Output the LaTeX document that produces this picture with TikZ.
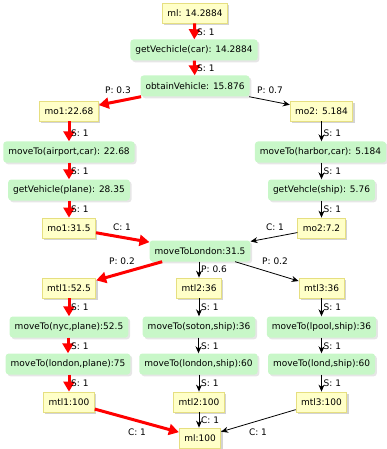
\documentclass[tikz,border=0pt]{standalone}
\usepackage{fontspec}
\setmainfont{DejaVu Sans}
\usetikzlibrary{arrows.meta,shadows}
\definecolor{ylwfill}{HTML}{FFFFC8}
\definecolor{ylwline}{HTML}{E6DF80}
\definecolor{grnfill}{HTML}{C8F7C8}
\tikzset{
  base/.style={font=\fontsize{9}{10}\selectfont, inner xsep=5pt, inner ysep=2pt, minimum height=20pt},
  state/.style={base, fill=ylwfill, draw=ylwline, line width=0.8pt,
    drop shadow={shadow xshift=1.8pt, shadow yshift=-1.8pt, opacity=0.35, fill=gray}},
  task/.style={base, fill=grnfill, rounded corners=3pt, minimum height=21pt,
    drop shadow={shadow xshift=1.8pt, shadow yshift=-1.8pt, opacity=0.2, fill=gray}},
  lbl/.style={font=\fontsize{9}{10}\selectfont, inner sep=0pt},
  hot/.style={draw=red, line width=3pt, -{Triangle[length=10pt,width=11pt]}, fill=red, shorten >=0pt},
  cold/.style={draw=black, line width=0.8pt, -{Stealth[length=7pt,width=6pt]}},
}
\begin{document}
\begin{tikzpicture}[x=1pt,y=-1pt]
\useasboundingbox (0,0) rectangle (386,449);

% states and tasks
\node[state] (ml)   at (195,13)  {ml: 14.2884};
\node[task]  (gvc)  at (194,50)  {getVechicle(car): 14.2884};
\node[task]  (ov)   at (195,86)  {obtainVehicle: 15.876};
\node[state] (mo1a) at (69,111)  {mo1:22.68};
\node[state] (mo2a) at (321.5,111) {mo2: 5.184};
\node[task]  (mta)  at (69,152)  {moveTo(airport,car): 22.68};
\node[task]  (mth)  at (320.5,152) {moveTo(harbor,car): 5.184};
\node[task]  (gvp)  at (69,190)  {getVehicle(plane): 28.35};
\node[task]  (gvs)  at (321.5,190) {getVehcle(ship): 5.76};
\node[state] (mo1b) at (69,228)  {mo1:31.5};
\node[state] (mo2b) at (321.5,228) {mo2:7.2};
\node[task]  (mtl)  at (200,251) {moveToLondon:31.5};
\node[state] (t1a)  at (69,288)  {mtl1:52.5};
\node[state] (t2a)  at (199,288) {mtl2:36};
\node[state] (t3a)  at (321.5,288) {mtl3:36};
\node[task]  (nyc)  at (69,327)  {moveTo(nyc,plane):52.5};
\node[task]  (sot)  at (199,327) {moveTo(soton,ship):36};
\node[task]  (lpo)  at (321.5,327) {moveTo(lpool,ship):36};
\node[task]  (lpl)  at (68,364)  {moveTo(london,plane):75};
\node[task]  (lsh)  at (198.5,364) {moveTo(london,ship):60};
\node[task]  (lds)  at (321.5,364) {moveTo(lond,ship):60};
\node[state] (t1b)  at (69,402)  {mtl1:100};
\node[state] (t2b)  at (199,402) {mtl2:100};
\node[state] (t3b)  at (321.5,402) {mtl3:100};
\node[state] (mle)  at (200,438) {ml:100};

% connectors
\draw[hot]  (ml) -- (gvc);
\draw[hot]  (gvc) -- (ov);
\draw[hot]  (ov) -- (mo1a);
\draw[cold] (ov) -- (mo2a);
\draw[hot]  (mo1a) -- (mta);
\draw[hot]  (mta) -- (gvp);
\draw[hot]  (gvp) -- (mo1b);
\draw[cold] (mo2a) -- (mth.north -| mo2a);
\draw[cold] (mth.south -| mo2a) -- (gvs);
\draw[cold] (gvs) -- (mo2b);
\draw[hot]  (mo1b) -- (mtl);
\draw[cold] (mo2b) -- (mtl);
\draw[hot]  (mtl) -- (t1a);
\draw[cold] (mtl.south -| t2a) -- (t2a);
\draw[cold] (mtl) -- (t3a);
\draw[hot]  (t1a) -- (nyc);
\draw[cold] (t2a) -- (sot);
\draw[cold] (t3a) -- (lpo);
\draw[hot]  (nyc.south -| lpl) -- (lpl);
\draw[cold] (sot.south -| lsh) -- (lsh);
\draw[cold] (lpo) -- (lds);
\draw[hot]  (lpl.south -| t1b) -- (t1b);
\draw[cold] (lsh.south -| t2b) -- (t2b);
\draw[cold] (lds) -- (t3b);
\draw[hot]  (t1b) -- (mle);
\draw[cold] (t2b) -- (mle.north -| t2b);
\draw[cold] (t3b) -- (mle);

% connector labels
\node[lbl, anchor=west] (s1)  at (197,32)  {S: 1};
\node[lbl, anchor=west] (s2)  at (197,68)  {S: 1};
\node[lbl] (p1)  at (118,90)  {P: 0.3};
\node[lbl] (p2)  at (270,90)  {P: 0.7};
\node[lbl, anchor=west] (s3)  at (71,133)  {S: 1};
\node[lbl, anchor=west] (s4)  at (71,171)  {S: 1};
\node[lbl, anchor=west] (s5)  at (71,209)  {S: 1};
\node[lbl, anchor=west] (s6)  at (323.5,133) {S: 1};
\node[lbl, anchor=west] (s7)  at (323.5,171) {S: 1};
\node[lbl, anchor=west] (s8)  at (323.5,209) {S: 1};
\node[lbl] (c1)  at (122,227) {C: 1};
\node[lbl] (c2)  at (275,227) {C: 1};
\node[lbl] (p3)  at (122,261) {P: 0.2};
\node[lbl, anchor=west] (p4)  at (201,269) {P: 0.6};
\node[lbl] (p5)  at (275,261) {P: 0.2};
\node[lbl, anchor=west] (s9)  at (71,307)  {S: 1};
\node[lbl, anchor=west] (s10) at (201,307) {S: 1};
\node[lbl, anchor=west] (s11) at (323.5,307) {S: 1};
\node[lbl, anchor=west] (s12) at (71,346)  {S: 1};
\node[lbl, anchor=west] (s13) at (201,346) {S: 1};
\node[lbl, anchor=west] (s14) at (323.5,346) {S: 1};
\node[lbl, anchor=west] (s15) at (71,383)  {S: 1};
\node[lbl, anchor=west] (s16) at (201,383) {S: 1};
\node[lbl, anchor=west] (s17) at (323.5,383) {S: 1};
\node[lbl, anchor=west] (c3)  at (201,420) {C: 1};
\node[lbl] (c4)  at (137,432) {C: 1};
\node[lbl] (c5)  at (258,432) {C: 1};
\end{tikzpicture}
\end{document}
